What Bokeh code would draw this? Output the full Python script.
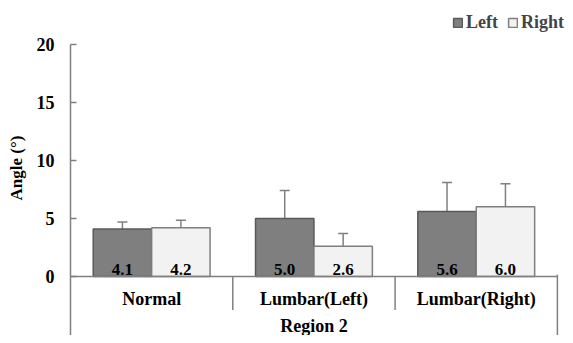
from bokeh.plotting import figure
from bokeh.models import (ColumnDataSource, Range1d, FixedTicker,
                          Whisker, TeeHead, Legend, LegendItem)
from bokeh.core.properties import value
from bokeh.embed import file_html
from bokeh.resources import INLINE

categories = ["Normal", "Lumbar(Left)", "Lumbar(Right)"]
left_vals = [4.1, 5.0, 5.6]
right_vals = [4.2, 2.6, 6.0]
left_err = [0.6, 2.4, 2.5]
right_err = [0.65, 1.1, 2.0]
y_ticks = [0, 5, 10, 15, 20]
group_label = "Region 2"

FONT = "Times New Roman"
AXIS_GRAY = "#808080"
Y_START, Y_END = -5.09, 23.79
X_END = 3.05
bw = 0.36

n = len(categories)
centers = [i + 0.5 for i in range(n)]
src = ColumnDataSource(dict(
    cat=categories,
    xl=[c - bw / 2 for c in centers],
    xr=[c + bw / 2 for c in centers],
    xc=centers,
    xsep=[c + 0.5 for c in centers],
    left=left_vals,
    right=right_vals,
    left_top=[v + e for v, e in zip(left_vals, left_err)],
    right_top=[v + e for v, e in zip(right_vals, right_err)],
    left_txt=[f"{v:.1f}" for v in left_vals],
    right_txt=[f"{v:.1f}" for v in right_vals],
    sep_top=[0] * (n - 1) + [0.15],
    sep_bot=[-2.9] * (n - 1) + [Y_START],
    lab_y=[-1.98] * n,
    val_y=[0.6] * n,
))

p = figure(width=565, height=335, x_range=Range1d(0, X_END),
           y_range=Range1d(Y_START, Y_END), output_backend="svg", toolbar_location=None,
           min_border_left=70, min_border_right=0, min_border_top=0, min_border_bottom=0)
p.outline_line_color = None
p.grid.visible = False
p.xaxis.visible = False
p.background_fill_color = "white"

r_left = p.vbar(x="xl", top="left", width=bw, source=src,
                fill_color="#7f7f7f", line_color="#595959", line_width=1.5)
r_right = p.vbar(x="xr", top="right", width=bw, source=src,
                 fill_color="#f2f2f2", line_color="#7f7f7f", line_width=1.5)

for base, lo, hi in [("xl", "left", "left_top"), ("xr", "right", "right_top")]:
    w = Whisker(base=base, lower=lo, upper=hi, source=src,
                line_color=AXIS_GRAY, line_width=1.5, lower_head=None,
                upper_head=TeeHead(size=10, line_color=AXIS_GRAY, line_width=1.5))
    p.add_layout(w)

# baseline
p.segment(x0=[0], y0=[0], x1=[n], y1=[0], line_color=AXIS_GRAY, line_width=1.5)

# category separators
p.segment(x0="xsep", y0="sep_top", x1="xsep", y1="sep_bot", source=src,
          line_color=AXIS_GRAY, line_width=1.5)

# value labels
for xcol, col in [("xl", "left_txt"), ("xr", "right_txt")]:
    p.text(x=xcol, y="val_y", text=col, source=src,
           text_font=value(FONT), text_font_style="bold", text_font_size="17px",
           text_align="center", text_baseline="middle", text_color="black")

# category labels
p.text(x="xc", y="lab_y", text="cat", source=src,
       text_font=value(FONT), text_font_style="bold", text_font_size="18px",
       text_align="center", text_baseline="middle", text_color="black")

# group label
p.text(x=[n / 2], y=[-4.31], text=[group_label],
       text_font=value(FONT), text_font_style="bold", text_font_size="18px",
       text_align="center", text_baseline="middle", text_color="black")

ax = p.yaxis[0]
ax.ticker = FixedTicker(ticks=y_ticks)
ax.bounds = (Y_START, 20)
ax.axis_line_color = AXIS_GRAY
ax.axis_line_width = 1.5
ax.major_tick_line_color = AXIS_GRAY
ax.major_tick_line_width = 1.5
ax.major_tick_in = 6
ax.major_tick_out = 0
ax.minor_tick_line_color = None
ax.major_label_text_font = FONT
ax.major_label_text_font_style = "bold"
ax.major_label_text_font_size = "18px"
ax.major_label_text_color = "black"
ax.major_label_standoff = 16
ax.axis_label = "Angle (°)"
ax.axis_label_text_font = FONT
ax.axis_label_text_font_style = "bold"
ax.axis_label_text_font_size = "17px"
ax.axis_label_text_color = "black"
ax.axis_label_standoff = 8

legend = Legend(items=[LegendItem(label="Left", renderers=[r_left]),
                       LegendItem(label="Right", renderers=[r_right])],
                orientation="horizontal", location=(382, 302),
                label_text_font=FONT, label_text_font_style="bold", label_text_font_size="18px",
                glyph_width=11, glyph_height=11, label_standoff=3, spacing=9,
                padding=0, margin=0, border_line_color=None, background_fill_alpha=0)
p.add_layout(legend)

open("out.html", "w").write(file_html(p, INLINE))
